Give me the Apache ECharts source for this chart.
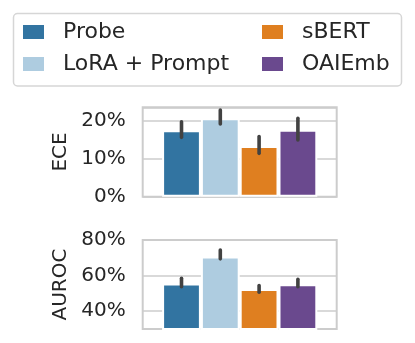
<!DOCTYPE html>
<html><head><meta charset="utf-8">
<script src="https://cdn.jsdelivr.net/npm/echarts@6/dist/echarts.min.js"></script>
<style>html,body{margin:0;padding:0;background:#fff}#c{width:415px;height:343px}</style>
</head><body><div id="c"></div>
<script>
const methods = ['Probe', 'LoRA + Prompt', 'sBERT', 'OAIEmb'];
const colors = ['#3274a1', '#aecce0', '#df7f20', '#6a498e'];
const eceMean = [0.175, 0.206, 0.133, 0.176];
const eceLow = [0.156, 0.191, 0.114, 0.149];
const eceHigh = [0.197, 0.228, 0.158, 0.206];
const aurocMean = [0.555, 0.707, 0.525, 0.551];
const aurocLow = [0.538, 0.694, 0.507, 0.538];
const aurocHigh = [0.585, 0.744, 0.544, 0.579];
const eceTicks = [0, 0.1, 0.2];
const aurocTicks = [0.4, 0.6, 0.8];

const textColor = '#262626';
const gridColor = '#cccccc';

function fmt(ticks) {
  return function (v) {
    for (const t of ticks) if (Math.abs(v - t) < 1e-6) return Math.round(t * 100) + '%';
    return '';
  };
}

function yAxis(idx, name, min, max, ticks) {
  return {
    type: 'value', gridIndex: idx, min: min, max: max, splitNumber: 3,
    axisLine: { show: false }, axisTick: { show: false },
    splitLine: { show: true, lineStyle: { color: gridColor, width: 1.5 } },
    axisLabel: { fontSize: 20, color: textColor, margin: 17, formatter: fmt(ticks), fontFamily: 'DejaVu Sans' },
    name: name, nameLocation: 'middle', nameGap: 72,
    nameTextStyle: { fontSize: 20, color: textColor, fontFamily: 'DejaVu Sans' }
  };
}

function bars(idx, means) {
  return methods.map((m, i) => ({
    type: 'bar', name: m, xAxisIndex: idx, yAxisIndex: idx,
    data: [means[i]], barGap: '0%', barCategoryGap: '20%',
    itemStyle: { color: colors[i], borderColor: '#ffffff', borderWidth: 2 },
    emphasis: { disabled: true }, animation: false
  }));
}

function errs(idx, low, high) {
  return {
    type: 'custom', xAxisIndex: idx, yAxisIndex: idx, z: 10, silent: true, animation: false,
    data: low.map((l, i) => [0, l, high[i], i]),
    encode: { x: 0, y: [1, 2] },
    renderItem: function (params, api) {
      const cat = api.value(0), i = api.value(3);
      const w = api.size([1, 0])[0];
      const p1 = api.coord([cat, api.value(1)]);
      const p2 = api.coord([cat, api.value(2)]);
      const off = (i - 1.5) * w * 0.2;
      return {
        type: 'line',
        shape: { x1: p1[0] + off, y1: p1[1], x2: p2[0] + off, y2: p2[1] },
        style: { stroke: '#424242', lineWidth: 3.6, lineCap: 'round' }
      };
    }
  };
}

const legendCommon = {
  orient: 'vertical', itemWidth: 21, itemHeight: 14, itemGap: 10, padding: 0,
  icon: 'rect', selectedMode: false,
  itemStyle: { borderWidth: 0 },
  textStyle: { fontSize: 22, color: textColor, lineHeight: 22, padding: [0, 0, 0, 14], fontFamily: 'DejaVu Sans' }
};

const chart = echarts.init(document.getElementById('c'), null, { renderer: 'canvas' });
chart.setOption({
  animation: false,
  color: colors,
  graphic: [{
    type: 'rect', shape: { x: 13.5, y: 13.5, width: 388, height: 72.5, r: 4 },
    style: { fill: '#ffffff', stroke: '#d6d6d6', lineWidth: 1.5 }, z: -1
  }],
  legend: [
    Object.assign({}, legendCommon, { left: 23, top: 21, data: [methods[0], methods[1]] }),
    Object.assign({}, legendCommon, { left: 262, top: 21, data: [methods[2], methods[3]] })
  ],
  grid: [
    { left: 142.7, right: 78.3, top: 107.3, bottom: 146.3, show: true, borderColor: gridColor, borderWidth: 2, containLabel: false },
    { left: 142.7, right: 78.3, top: 240, bottom: 14, show: true, borderColor: gridColor, borderWidth: 2, containLabel: false }
  ],
  xAxis: [
    { type: 'category', gridIndex: 0, data: ['all'], axisLine: { show: false }, axisTick: { show: false }, axisLabel: { show: false }, splitLine: { show: false } },
    { type: 'category', gridIndex: 1, data: ['all'], axisLine: { show: false }, axisTick: { show: false }, axisLabel: { show: false }, splitLine: { show: false } }
  ],
  yAxis: [
    yAxis(0, 'ECE', 0, 0.235, eceTicks),
    yAxis(1, 'AUROC', 0.3, 0.8, aurocTicks)
  ],
  series: [].concat(
    bars(0, eceMean), [errs(0, eceLow, eceHigh)],
    bars(1, aurocMean), [errs(1, aurocLow, aurocHigh)]
  )
});
</script>
</body></html>
